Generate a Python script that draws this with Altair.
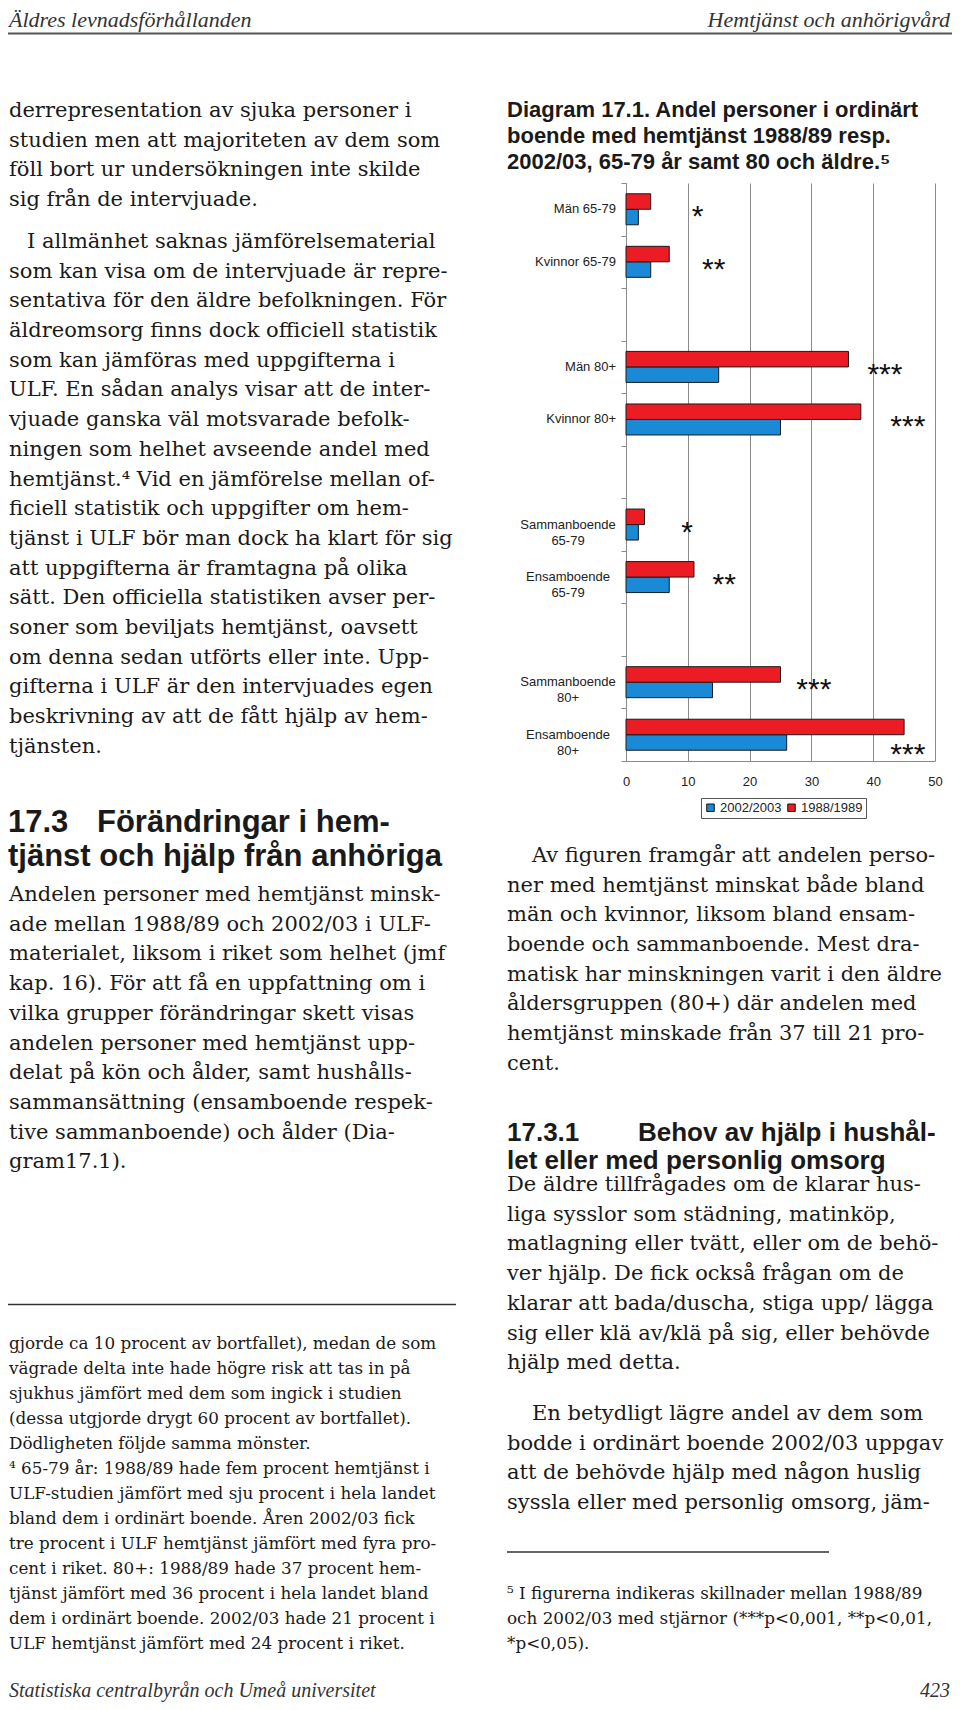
import altair as alt
import pandas as pd

# ---------------- chart data ----------------
categories = ["Män 65-79", "Kvinnor 65-79", "_g1", "Män 80+", "Kvinnor 80+", "_g2",
              "Sammanboende|65-79", "Ensamboende|65-79", "_g3",
              "Sammanboende|80+", "Ensamboende|80+"]
groups = ["Män 65-79", "Kvinnor 65-79", "Män 80+", "Kvinnor 80+",
          "Sammanboende|65-79", "Ensamboende|65-79", "Sammanboende|80+", "Ensamboende|80+"]
values_1988 = [4, 7, 36, 38, 3, 11, 25, 45]
values_2002 = [2, 4, 15, 25, 2, 7, 14, 26]
periods = ["2002/2003", "1988/1989"]
stars = ["*", "**", "***", "***", "*", "**", "***", "***"]
star_pos = [11.6, 14.2, 41.9, 45.6, 9.9, 15.9, 30.4, 45.6]
x_ticks = [0, 10, 20, 30, 40, 50]

# ---------------- page text ----------------
header_left = "Äldres levnadsförhållanden"
header_right = "Hemtjänst och anhörigvård"
footer_left = "Statistiska centralbyrån och Umeå universitet"
footer_right = "423"

left_p1 = ["derrepresentation av sjuka personer i",
           "studien men att majoriteten av dem som",
           "föll bort ur undersökningen inte skilde",
           "sig från de intervjuade."]
left_p2_first = "I allmänhet saknas jämförelsematerial"
left_p2 = ["som kan visa om de intervjuade är repre-",
           "sentativa för den äldre befolkningen. För",
           "äldreomsorg finns dock officiell statistik",
           "som kan jämföras med uppgifterna i",
           "ULF. En sådan analys visar att de inter-",
           "vjuade ganska väl motsvarade befolk-",
           "ningen som helhet avseende andel med",
           "hemtjänst.⁴ Vid en jämförelse mellan of-",
           "ficiell statistik och uppgifter om hem-",
           "tjänst i ULF bör man dock ha klart för sig",
           "att uppgifterna är framtagna på olika",
           "sätt. Den officiella statistiken avser per-",
           "soner som beviljats hemtjänst, oavsett",
           "om denna sedan utförts eller inte. Upp-",
           "gifterna i ULF är den intervjuades egen",
           "beskrivning av att de fått hjälp av hem-",
           "tjänsten."]
left_head_num = "17.3"
left_head1 = "Förändringar i hem-"
left_head2 = "tjänst och hjälp från anhöriga"
left_p3 = ["Andelen personer med hemtjänst minsk-",
           "ade mellan 1988/89 och 2002/03 i ULF-",
           "materialet, liksom i riket som helhet (jmf",
           "kap. 16). För att få en uppfattning om i",
           "vilka grupper förändringar skett visas",
           "andelen personer med hemtjänst upp-",
           "delat på kön och ålder, samt hushålls-",
           "sammansättning (ensamboende respek-",
           "tive sammanboende) och ålder (Dia-",
           "gram17.1)."]
left_notes = ["gjorde ca 10 procent av bortfallet), medan de som",
              "vägrade delta inte hade högre risk att tas in på",
              "sjukhus jämfört med dem som ingick i studien",
              "(dessa utgjorde drygt 60 procent av bortfallet).",
              "Dödligheten följde samma mönster.",
              "⁴ 65-79 år: 1988/89 hade fem procent hemtjänst i",
              "ULF-studien jämfört med sju procent i hela landet",
              "bland dem i ordinärt boende. Åren 2002/03 fick",
              "tre procent i ULF hemtjänst jämfört med fyra pro-",
              "cent i riket. 80+: 1988/89 hade 37 procent hem-",
              "tjänst jämfört med 36 procent i hela landet bland",
              "dem i ordinärt boende. 2002/03 hade 21 procent i",
              "ULF hemtjänst jämfört med 24 procent i riket."]

chart_title = ["Diagram 17.1. Andel personer i ordinärt",
               "boende med hemtjänst 1988/89 resp.",
               "2002/03, 65-79 år samt 80 och äldre.⁵"]
right_p1_first = "Av figuren framgår att andelen perso-"
right_p1 = ["ner med hemtjänst minskat både bland",
            "män och kvinnor, liksom bland ensam-",
            "boende och sammanboende. Mest dra-",
            "matisk har minskningen varit i den äldre",
            "åldersgruppen (80+) där andelen med",
            "hemtjänst minskade från 37 till 21 pro-",
            "cent."]
right_head_num = "17.3.1"
right_head1 = "Behov av hjälp i hushål-"
right_head2 = "let eller med personlig omsorg"
right_p2 = ["De äldre tillfrågades om de klarar hus-",
            "liga sysslor som städning, matinköp,",
            "matlagning eller tvätt, eller om de behö-",
            "ver hjälp. De fick också frågan om de",
            "klarar att bada/duscha, stiga upp/ lägga",
            "sig eller klä av/klä på sig, eller behövde",
            "hjälp med detta."]
right_p3_first = "En betydligt lägre andel av dem som"
right_p3 = ["bodde i ordinärt boende 2002/03 uppgav",
            "att de behövde hjälp med någon huslig",
            "syssla eller med personlig omsorg, jäm-"]
right_notes = ["⁵ I figurerna indikeras skillnader mellan 1988/89",
               "och 2002/03 med stjärnor (***p<0,001, **p<0,01,",
               "*p<0,05)."]

# ---------------- layout ----------------
OX, OY = 626, 183          # page position of plot origin
PW, PH = 309, 578          # plot area size
RED = "#ec1c24"
BLUE = "#1b8ad6"
SERIF = "DejaVu Serif"
SANS = "Liberation Sans"
BODY = 21
LH = 29.7
NOTE = 16.8
NLH = 25.0
INK = "#1a1a1a"


def one():
    return pd.DataFrame({"k": [0]})


def block(lines, x, y, font=SERIF, size=BODY, lh=LH, style="normal",
          weight="normal", align="left", color=INK):
    df = pd.DataFrame({"t": ["\n".join(lines)]})
    return alt.Chart(df).mark_text(
        font=font, fontSize=size, lineHeight=lh, fontStyle=style, lineBreak="\n",
        fontWeight=weight, align=align, baseline="alphabetic", color=color
    ).encode(x=alt.value(x - OX), y=alt.value(y - OY), text="t:N")


def hrule(x1, x2, y, width=1.5, color="#333333"):
    return alt.Chart(one()).mark_rule(color=color, strokeWidth=width).encode(
        x=alt.value(x1 - OX), x2=alt.value(x2 - OX), y=alt.value(y - OY))


# ---------------- bar chart ----------------
rows = []
for g, a, b in zip(groups, values_2002, values_1988):
    rows.append({"cat": g, "period": periods[0], "value": a})
    rows.append({"cat": g, "period": periods[1], "value": b})
bars_df = pd.DataFrame(rows)
star_df = pd.DataFrame({"cat": groups, "pos": star_pos, "star": stars})
single_df = pd.DataFrame({"cat": [g for g in groups if "|" not in g]})
multi_df = pd.DataFrame({"cat": [g for g in groups if "|" in g]})

x_scale = alt.Scale(domain=[0, 50], nice=False, zero=True)
y_scale = alt.Scale(domain=categories, paddingInner=0, paddingOuter=0)

y_axis = alt.Axis(title=None, tickBand="extent", tickSize=5, tickColor="#8a8a8a",
                  domainColor="#8a8a8a", grid=False, labels=False)
x_axis = alt.Axis(title=None, values=x_ticks, grid=True, gridColor="#8c8c8c", gridWidth=1,
                  ticks=False, domainColor="#8a8a8a", labelFont=SANS, labelFontSize=13,
                  labelColor="#222222", labelPadding=14, labelFlush=False)


def y_enc():
    return alt.Y("cat:N", scale=y_scale, sort=categories, axis=y_axis)


bars = alt.Chart(bars_df).mark_bar(stroke="#1a1a1a", strokeWidth=1).encode(
    x=alt.X("value:Q", scale=x_scale, axis=x_axis),
    y=y_enc(),
    yOffset=alt.YOffset("period:N", sort=["1988/1989", "2002/2003"],
                        scale=alt.Scale(paddingInner=0, paddingOuter=0.695)),
    color=alt.Color("period:N", scale=alt.Scale(domain=periods, range=[BLUE, RED]),
                    legend=alt.Legend(
                        orient="none", legendX=701 - OX, legendY=798 - OY,
                        direction="horizontal", title=None, symbolType="square",
                        symbolSize=56, symbolStrokeColor="#111111",
                        symbolStrokeWidth=1, labelFont=SANS, labelFontSize=13,
                        labelColor="#222222", strokeColor="#555555", padding=3,
                        columnPadding=3, labelOffset=3)),
)

labels_single = alt.Chart(single_df).mark_text(
    align="right", baseline="middle", font=SANS, fontSize=13, color="#222222"
).encode(y=y_enc(), x=alt.value(-10), text="cat:N")
labels_multi = alt.Chart(multi_df).mark_text(
    align="center", baseline="middle", font=SANS, fontSize=13, color="#222222",
    lineBreak="|", lineHeight=16
).encode(y=y_enc(), x=alt.value(-58), text="cat:N")

star_main = alt.Chart(star_df.iloc[:-1]).mark_text(
    font=SANS, fontSize=30, dy=17, baseline="alphabetic", color="#111111"
).encode(x=alt.X("pos:Q", scale=x_scale, axis=x_axis), y=y_enc(), text="star:N")
star_last = alt.Chart(star_df.iloc[-1:]).mark_text(
    font=SANS, fontSize=30, dy=29, baseline="alphabetic", color="#111111"
).encode(x=alt.X("pos:Q", scale=x_scale, axis=x_axis), y=y_enc(), text="star:N")

# ---------------- page elements ----------------
HDR = "Liberation Serif"
page = [
    block([header_left], 9, 27, font=HDR, size=22, style="italic", color="#333333"),
    block([header_right], 950, 27, font=HDR, size=22, style="italic",
          align="right", color="#333333"),
    hrule(0, 960, 33.5, width=2, color="#555555"),
    block(left_p1, 9, 117),
    block([left_p2_first], 27, 248),
    block(left_p2, 9, 248 + LH),
    block([left_head_num], 8, 832, font=SANS, size=31, weight="bold"),
    block([left_head1], 97, 832, font=SANS, size=31, weight="bold"),
    block([left_head2], 8, 866, font=SANS, size=31, weight="bold"),
    block(left_p3, 9, 901),
    hrule(7, 456, 1304.5),
    block(left_notes, 9, 1349, size=NOTE, lh=NLH),
    block(chart_title, 507, 117, font=SANS, size=22, lh=26, weight="bold"),
    block([right_p1_first], 532, 862),
    block(right_p1, 507, 862 + LH),
    block([right_head_num], 507, 1141, font=SANS, size=26, weight="bold"),
    block([right_head1], 638, 1141, font=SANS, size=26, weight="bold"),
    block([right_head2], 507, 1169, font=SANS, size=26, weight="bold"),
    block(right_p2, 507, 1191),
    block([right_p3_first], 532, 1420),
    block(right_p3, 507, 1420 + LH),
    hrule(507, 829, 1552),
    block(right_notes, 507, 1599, size=NOTE, lh=NLH),
    block([footer_left], 9, 1697, font=HDR, size=20, style="italic", color="#333333"),
    block([footer_right], 950, 1697, font=HDR, size=20, style="italic",
          align="right", color="#333333"),
]

chart = alt.layer(bars, labels_single, labels_multi, star_main, star_last, *page).properties(
    width=PW, height=PH,
    padding={"left": OX - 8, "top": OY - 8, "right": 944 - (OX - 8) - PW,
             "bottom": 1694 - (OY - 8) - PH},
    autosize=alt.AutoSizeParams(type="none"),
    background="white",
).configure_view(stroke=None)

chart.save("out.html", embed_options={"renderer": "svg", "actions": False})
